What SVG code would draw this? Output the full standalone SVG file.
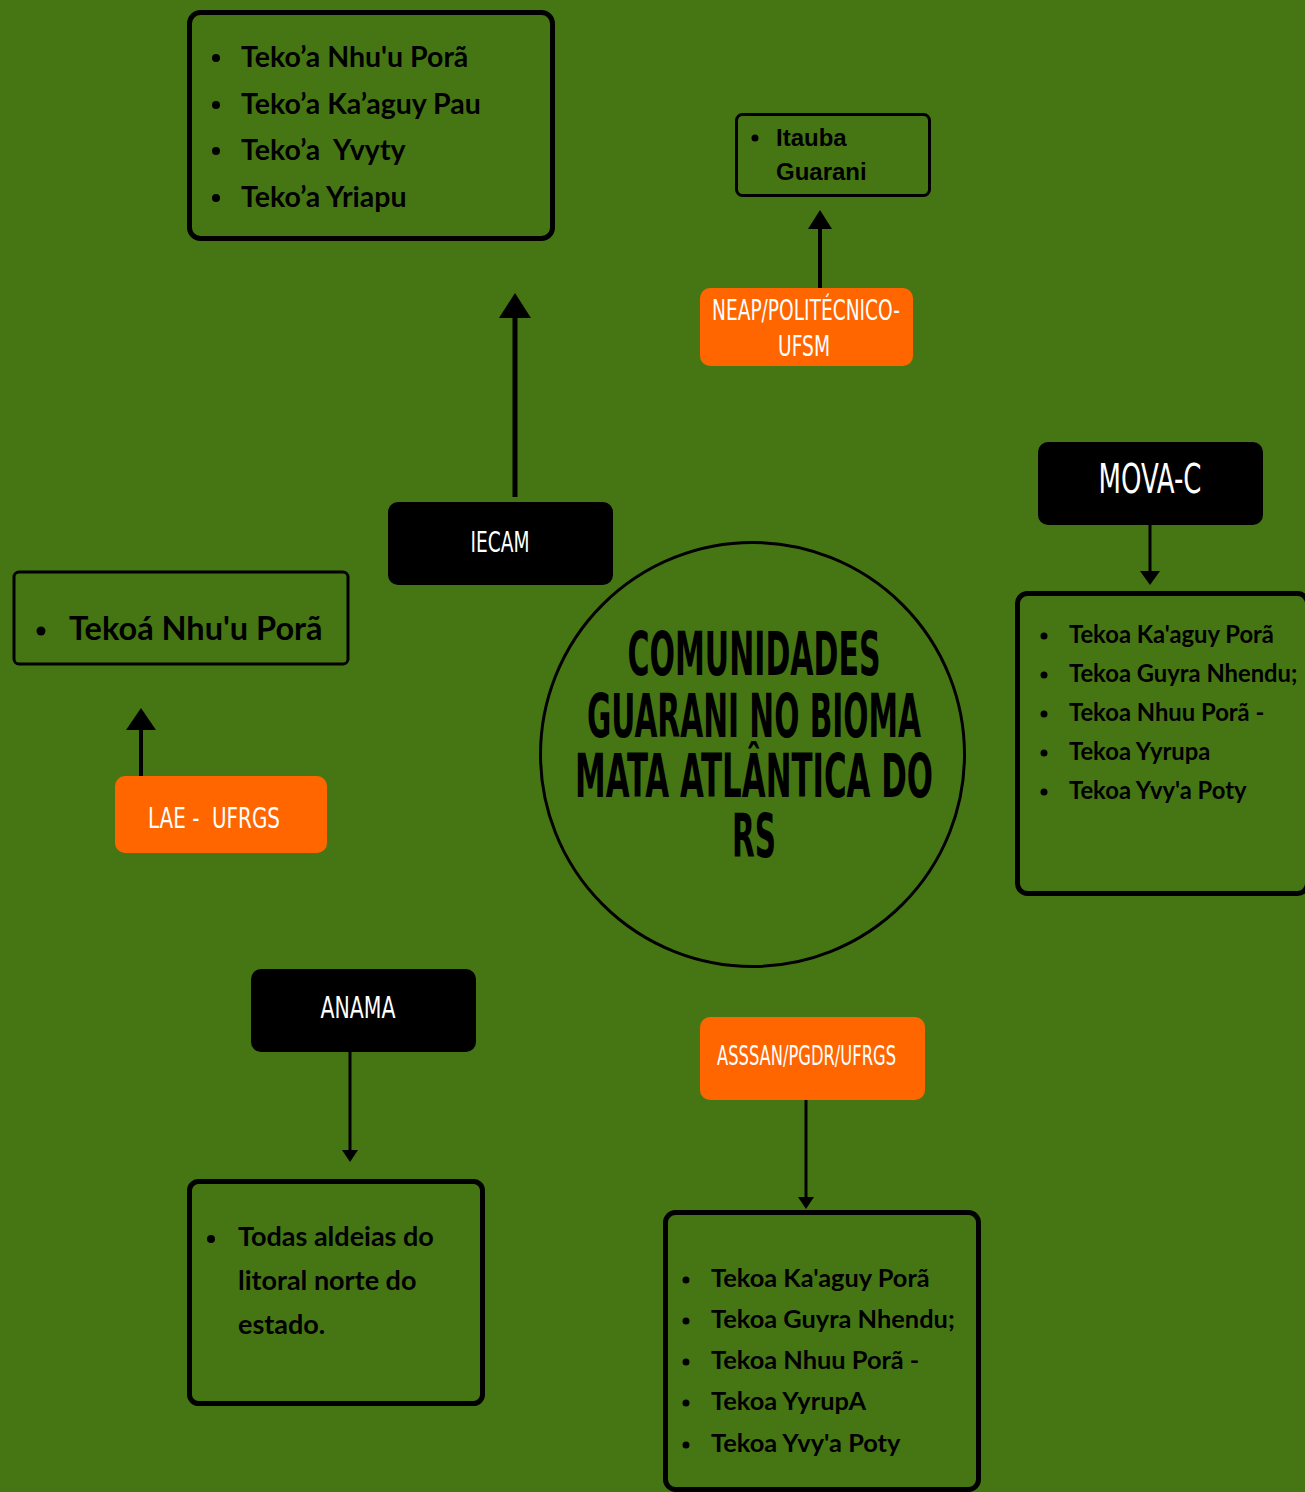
<svg xmlns="http://www.w3.org/2000/svg" width="1305" height="1492" viewBox="0 0 1305 1492">
<style>
.bg{fill:#467614}
.list{fill:none;stroke:#000}
.lt{font-family:Lato,"Liberation Sans",sans-serif;font-weight:700;fill:#000}
.cond{font-family:"DejaVu Sans Condensed","DejaVu Sans",sans-serif;fill:#fff;text-anchor:middle}
.blk{fill:#000}
.org{fill:#ff6600}
.ar{stroke:#000;fill:none}
.head{fill:#000}
.title{font-family:"DejaVu Sans Condensed","DejaVu Sans",sans-serif;font-weight:700;fill:#000;text-anchor:middle;font-size:60px}
</style>
<rect class="bg" x="0" y="0" width="1305" height="1492"/>

<g id="connectors">
  <line class="ar" x1="515" y1="497" x2="515" y2="314" stroke-width="5"/>
  <polygon class="head" points="499,318 531,318 515,293"/>
  <line class="ar" x1="820" y1="288" x2="820" y2="226" stroke-width="4"/>
  <polygon class="head" points="808,229 832,229 820,210"/>
  <line class="ar" x1="1150" y1="525" x2="1150" y2="573" stroke-width="3"/>
  <polygon class="head" points="1140,571 1160,571 1150,585"/>
  <line class="ar" x1="141" y1="776" x2="141" y2="726" stroke-width="4"/>
  <polygon class="head" points="126,730 156,730 141,708"/>
  <line class="ar" x1="350" y1="1052" x2="350" y2="1152" stroke-width="3"/>
  <polygon class="head" points="342,1150 358,1150 350,1162"/>
  <line class="ar" x1="806" y1="1100" x2="806" y2="1199" stroke-width="3"/>
  <polygon class="head" points="798,1197 814,1197 806,1209"/>
</g>

<g id="top-list">
  <rect class="list" x="189.5" y="12.5" width="363" height="226" rx="11" stroke-width="5"/>
  <g class="lt" font-size="28.5">
    <circle cx="216" cy="58" r="4"/><text x="241" y="67">Teko’a Nhu'u Porã</text>
    <circle cx="216" cy="105" r="4"/><text x="241" y="114">Teko’a Ka’aguy Pau</text>
    <circle cx="216" cy="151" r="4"/><text x="241" y="160" xml:space="preserve">Teko’a  Yvyty</text>
    <circle cx="216" cy="198" r="4"/><text x="241" y="207">Teko’a Yriapu</text>
  </g>
</g>

<g id="itauba">
  <rect class="list" x="736.5" y="114.5" width="193" height="81" rx="6" stroke-width="3"/>
  <g font-family="'Liberation Sans',Arial,sans-serif" font-weight="700" font-size="24" fill="#000">
    <circle cx="755" cy="138" r="3.5"/>
    <text x="776" y="146">Itauba</text>
    <text x="776" y="180">Guarani</text>
  </g>
</g>

<g id="neap">
  <rect class="org" x="700" y="288" width="213" height="78" rx="10"/>
  <text class="cond" x="806" y="320" font-size="28" textLength="188" lengthAdjust="spacingAndGlyphs">NEAP/POLITÉCNICO-</text>
  <text class="cond" x="804" y="356" font-size="28" textLength="52" lengthAdjust="spacingAndGlyphs">UFSM</text>
</g>

<g id="iecam">
  <rect class="blk" x="388" y="502" width="225" height="83" rx="10"/>
  <text class="cond" x="500" y="552" font-size="28" textLength="59" lengthAdjust="spacingAndGlyphs">IECAM</text>
</g>

<g id="mova-c">
  <rect class="blk" x="1038" y="442" width="225" height="83" rx="10"/>
  <text class="cond" x="1150" y="493" font-size="40" textLength="103" lengthAdjust="spacingAndGlyphs">MOVA-C</text>
</g>

<g id="mova-list">
  <rect class="list" x="1017.5" y="593.5" width="290" height="300" rx="10" stroke-width="5"/>
  <g class="lt" font-size="23.8">
    <circle cx="1044" cy="636" r="3.5"/><text x="1069" y="643">Tekoa Ka'aguy Porã</text>
    <circle cx="1044" cy="675" r="3.5"/><text x="1069" y="682">Tekoa Guyra Nhendu;</text>
    <circle cx="1044" cy="714" r="3.5"/><text x="1069" y="721">Tekoa Nhuu Porã -</text>
    <circle cx="1044" cy="753" r="3.5"/><text x="1069" y="760">Tekoa Yyrupa</text>
    <circle cx="1044" cy="792" r="3.5"/><text x="1069" y="799">Tekoa Yvy'a Poty</text>
  </g>
</g>

<g id="lae-list">
  <rect class="list" x="14" y="572" width="334" height="92" rx="5" stroke-width="3"/>
  <circle cx="41" cy="631" r="4.5"/>
  <text class="lt" x="69" y="640" font-size="32.5">Tekoá Nhu'u Porã</text>
</g>

<g id="lae">
  <rect class="org" x="115" y="776" width="212" height="77" rx="10"/>
  <text class="cond" x="214" y="828" font-size="28" textLength="132" lengthAdjust="spacingAndGlyphs" xml:space="preserve">LAE -  UFRGS</text>
</g>

<g id="center">
  <circle cx="752.5" cy="754.5" r="212" fill="none" stroke="#000" stroke-width="3"/>
  <text class="title" x="754" y="675" textLength="253" lengthAdjust="spacingAndGlyphs">COMUNIDADES</text>
  <text class="title" x="754" y="737" textLength="334" lengthAdjust="spacingAndGlyphs">GUARANI NO BIOMA</text>
  <text class="title" x="754" y="797" textLength="358" lengthAdjust="spacingAndGlyphs">MATA ATLÂNTICA DO</text>
  <text class="title" x="754" y="857" textLength="44" lengthAdjust="spacingAndGlyphs">RS</text>
</g>

<g id="anama">
  <rect class="blk" x="251" y="969" width="225" height="83" rx="10"/>
  <text class="cond" x="358" y="1018" font-size="30" textLength="75" lengthAdjust="spacingAndGlyphs">ANAMA</text>
</g>

<g id="anama-list">
  <rect class="list" x="189.5" y="1181.5" width="293" height="222" rx="9" stroke-width="5"/>
  <g class="lt" font-size="27">
    <circle cx="211" cy="1239" r="4"/>
    <text x="238" y="1246">Todas aldeias do</text>
    <text x="238" y="1290">litoral norte do</text>
    <text x="238" y="1334">estado.</text>
  </g>
</g>

<g id="asssan">
  <rect class="org" x="700" y="1017" width="225" height="83" rx="10"/>
  <text class="cond" x="806.5" y="1065" font-size="26" textLength="179" lengthAdjust="spacingAndGlyphs">ASSSAN/PGDR/UFRGS</text>
</g>

<g id="asssan-list">
  <rect class="list" x="665.5" y="1212.5" width="313" height="277" rx="10" stroke-width="5"/>
  <g class="lt" font-size="25.4">
    <circle cx="686" cy="1280" r="3.5"/><text x="711" y="1287">Tekoa Ka'aguy Porã</text>
    <circle cx="686" cy="1321" r="3.5"/><text x="711" y="1328">Tekoa Guyra Nhendu;</text>
    <circle cx="686" cy="1362" r="3.5"/><text x="711" y="1369">Tekoa Nhuu Porã -</text>
    <circle cx="686" cy="1403" r="3.5"/><text x="711" y="1410">Tekoa YyrupA</text>
    <circle cx="686" cy="1445" r="3.5"/><text x="711" y="1452">Tekoa Yvy'a Poty</text>
  </g>
</g>
</svg>
